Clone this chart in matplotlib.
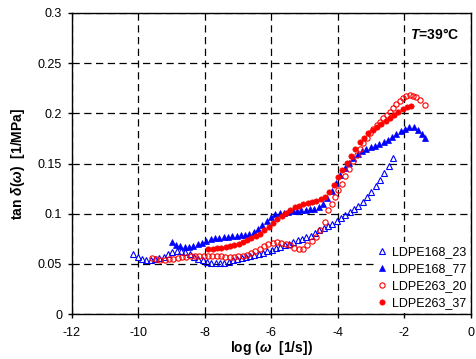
import matplotlib
matplotlib.use('Agg')
import matplotlib.pyplot as plt
from matplotlib.ticker import MultipleLocator, FuncFormatter

plt.rcParams['font.family'] = ['Liberation Sans', 'DejaVu Sans']
plt.rcParams['mathtext.fontset'] = 'custom'
plt.rcParams['mathtext.rm'] = 'Liberation Sans:bold'
plt.rcParams['mathtext.it'] = 'Liberation Sans:italic:bold'
plt.rcParams['mathtext.bf'] = 'Liberation Sans:bold'

# LDPE168_23 (open blue triangles)
x_168_23 = [-10.15, -10.02, -9.89, -9.76, -9.63, -9.50, -9.37, -9.24, -9.11, -8.98,
            -8.85, -8.72, -8.59, -8.46, -8.33, -8.20, -8.07, -7.94, -7.81, -7.68,
            -7.55, -7.42, -7.29, -7.16, -7.03, -6.90, -6.77, -6.64, -6.51, -6.38,
            -6.25, -6.12, -5.99, -5.86, -5.73, -5.60, -5.47, -5.34, -5.21, -5.08,
            -4.95, -4.82, -4.69, -4.56, -4.43, -4.30, -4.17, -4.04, -3.91, -3.78,
            -3.65, -3.52, -3.39, -3.26, -3.13, -3.00, -2.87, -2.74, -2.61, -2.48, -2.35]
y_168_23 = [0.060, 0.057, 0.055, 0.054, 0.054, 0.0545, 0.0555, 0.057, 0.0595, 0.0615,
            0.0625, 0.0625, 0.0615, 0.0595, 0.057, 0.055, 0.0535, 0.052, 0.051, 0.0505,
            0.0505, 0.051, 0.052, 0.0535, 0.0545, 0.0555, 0.0565, 0.0575, 0.059, 0.060,
            0.061, 0.063, 0.064, 0.0655, 0.067, 0.0685, 0.070, 0.072, 0.0735, 0.075,
            0.0765, 0.078, 0.081, 0.084, 0.086, 0.088, 0.090, 0.093, 0.096, 0.099,
            0.102, 0.105, 0.108, 0.112, 0.117, 0.122, 0.128, 0.134, 0.141, 0.148, 0.155]

# LDPE168_77 (filled blue triangles)
x_168_77 = [-9.00, -8.87, -8.74, -8.61, -8.48, -8.35, -8.22, -8.09, -7.96, -7.83,
            -7.70, -7.57, -7.44, -7.31, -7.18, -7.05, -6.92, -6.79, -6.66, -6.53,
            -6.40, -6.27, -6.14, -6.01, -5.88, -5.75, -5.62, -5.49, -5.36, -5.23,
            -5.10, -4.97, -4.84, -4.71, -4.58, -4.45, -4.32, -4.19, -4.06, -3.93,
            -3.80, -3.67, -3.54, -3.41, -3.28, -3.15, -3.02, -2.89, -2.76, -2.63,
            -2.50, -2.37, -2.24, -2.11, -1.98, -1.85, -1.72, -1.59, -1.46, -1.38]
y_168_77 = [0.0715, 0.069, 0.068, 0.067, 0.067, 0.068, 0.0695, 0.071, 0.073, 0.0745,
            0.0755, 0.076, 0.0765, 0.077, 0.0775, 0.078, 0.0785, 0.079, 0.080, 0.082,
            0.085, 0.089, 0.093, 0.097, 0.0995, 0.1005, 0.101, 0.102, 0.1025, 0.103,
            0.1035, 0.104, 0.1045, 0.105, 0.107, 0.110, 0.116, 0.123, 0.131, 0.139,
            0.146, 0.151, 0.155, 0.159, 0.162, 0.164, 0.166, 0.1675, 0.169, 0.171,
            0.173, 0.176, 0.179, 0.182, 0.184, 0.186, 0.186, 0.183, 0.179, 0.175]

# LDPE263_20 (open red circles)
x_263_20 = [-9.60, -9.47, -9.34, -9.21, -9.08, -8.95, -8.82, -8.69, -8.56, -8.43,
            -8.30, -8.17, -8.04, -7.91, -7.78, -7.65, -7.52, -7.39, -7.26, -7.13,
            -7.00, -6.87, -6.74, -6.61, -6.48, -6.35, -6.22, -6.09, -5.96, -5.83,
            -5.70, -5.57, -5.44, -5.31, -5.18, -5.05, -4.92, -4.79, -4.66, -4.53,
            -4.40, -4.29, -4.19, -4.09, -3.99, -3.89, -3.79, -3.68, -3.56, -3.44,
            -3.34, -3.24, -3.14, -3.04, -2.94, -2.84, -2.74, -2.64, -2.54, -2.44,
            -2.34, -2.24, -2.14, -2.04, -1.94, -1.84, -1.74, -1.64, -1.52, -1.38]
y_263_20 = [0.0555, 0.0545, 0.054, 0.054, 0.0545, 0.055, 0.056, 0.0565, 0.057, 0.0575,
            0.058, 0.058, 0.058, 0.058, 0.058, 0.058, 0.0575, 0.057, 0.057, 0.057,
            0.0575, 0.058, 0.059, 0.0605, 0.0625, 0.065, 0.068, 0.070, 0.071, 0.0715,
            0.071, 0.070, 0.0685, 0.066, 0.0645, 0.065, 0.0685, 0.073, 0.077, 0.084,
            0.092, 0.1035, 0.110, 0.117, 0.124, 0.130, 0.138, 0.145, 0.152, 0.1585,
            0.164, 0.170, 0.175, 0.180, 0.184, 0.188, 0.1915, 0.195, 0.198, 0.2015,
            0.205, 0.2095, 0.2125, 0.215, 0.217, 0.218, 0.2175, 0.2165, 0.213, 0.208]

# LDPE263_37 (filled red circles)
x_263_37 = [-7.90, -7.77, -7.64, -7.51, -7.38, -7.25, -7.12, -6.99, -6.86, -6.73,
            -6.60, -6.47, -6.34, -6.21, -6.08, -5.95, -5.82, -5.69, -5.56, -5.43,
            -5.30, -5.17, -5.04, -4.91, -4.78, -4.65, -4.52, -4.39, -4.26, -4.13,
            -4.00, -3.87, -3.74, -3.61, -3.48, -3.35, -3.22, -3.09, -2.96, -2.83,
            -2.70, -2.57, -2.44, -2.31, -2.18, -2.05, -1.92, -1.79]
y_263_37 = [0.0648, 0.065, 0.0655, 0.066, 0.067, 0.0675, 0.0688, 0.070, 0.0715, 0.0735,
            0.0755, 0.0775, 0.080, 0.0835, 0.087, 0.091, 0.095, 0.098, 0.101, 0.1037,
            0.1062, 0.108, 0.1095, 0.1105, 0.1115, 0.113, 0.1145, 0.117, 0.122, 0.129,
            0.137, 0.144, 0.151, 0.157, 0.164, 0.171, 0.1755, 0.180, 0.183, 0.186,
            0.189, 0.1925, 0.1955, 0.1985, 0.2015, 0.204, 0.206, 0.207]

fig = plt.figure(figsize=(4.76, 3.59), dpi=100)
ax = fig.add_axes([0.151, 0.1253, 0.8385, 0.8385])

ms = 3.8
ax.plot(x_168_23, y_168_23, linestyle='none', marker='^', markersize=ms,
        markerfacecolor='none', markeredgecolor='#0000ff', markeredgewidth=0.8, label='LDPE168_23')
ax.plot(x_168_77, y_168_77, linestyle='none', marker='^', markersize=ms,
        color='#0000ff', markeredgewidth=0.5, label='LDPE168_77')
ax.plot(x_263_20, y_263_20, linestyle='none', marker='o', markersize=ms,
        markerfacecolor='none', markeredgecolor='#ff0000', markeredgewidth=0.8, label='LDPE263_20')
ax.plot(x_263_37, y_263_37, linestyle='none', marker='o', markersize=ms,
        color='#ff0000', markeredgewidth=0.5, label='LDPE263_37')

ax.set_xlim(-12, 0)
ax.set_ylim(0, 0.3)
ax.xaxis.set_major_locator(MultipleLocator(2))
ax.yaxis.set_major_locator(MultipleLocator(0.05))
ax.yaxis.set_major_formatter(FuncFormatter(lambda v, p: '%g' % round(v, 3)))
ax.xaxis.set_major_formatter(FuncFormatter(lambda v, p: '%g' % v))

ax.grid(True, color='black', linestyle=(0, (5.8, 3.6)), linewidth=0.9)
ax.set_axisbelow(True)
for s in ax.spines.values():
    s.set_linewidth(1.0)
    s.set_color('black')

ax.tick_params(axis='both', direction='out', length=3, width=1, labelsize=9, colors='black')
ax.tick_params(axis='x', pad=6)
ax.tick_params(axis='y', pad=4)

ax.set_xlabel(r'log ($\omega$  [1/s])', fontsize=10, fontweight='bold', labelpad=0)
ax.set_ylabel(r'tan $\delta$($\omega$)  [1/MPa]', fontsize=10, fontweight='bold', labelpad=8)

ax.text(0.97, 0.955, r'$T$=39°C', transform=ax.transAxes, ha='right', va='top',
        fontsize=10, fontweight='bold')

leg = ax.legend(loc='lower right', bbox_to_anchor=(1.0, 0.0), frameon=True, fontsize=9,
                handlelength=0.6, handletextpad=0.5, labelspacing=0.4, borderpad=0.3,
                borderaxespad=0.1, numpoints=1)
leg.get_frame().set_facecolor('white')
leg.get_frame().set_edgecolor('none')
leg.get_frame().set_alpha(1.0)
leg.get_frame().set_boxstyle('square', pad=0)

plt.savefig('out.png', dpi=100)
